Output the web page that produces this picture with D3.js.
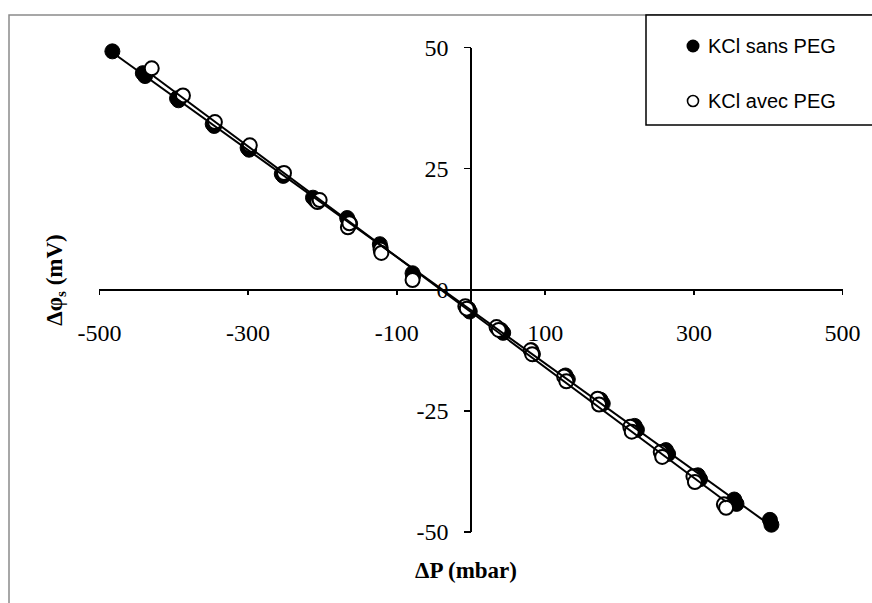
<!DOCTYPE html>
<html>
<head>
<meta charset="utf-8">
<title>Delta phi vs Delta P</title>
<script src="https://d3js.org/d3.v7.min.js"></script>
<style>
 body { margin: 0; background: #fff; }
 .axis path, .axis line { stroke: #000; stroke-width: 1.6; shape-rendering: crispEdges; }
 .title { font: bold 23px "Liberation Serif", "Times New Roman", serif; fill: #000; }
 .legend { font: 20px "Liberation Sans", Arial, sans-serif; fill: #000; }
</style>
</head>
<body>
<div id="chart"></div>
<script>
// KCl sans PEG (filled markers)
var sansP = [-482, -441, -438, -395, -393, -347, -345, -300, -298, -254, -252,
  -212, -209, -166, -164, -162, -122, -121, -78, -77, -3, -1, 41, 44, 82, 84,
  128, 131, 175, 178, 221, 224, 263, 266, 306, 309, 355, 358, 403, 405];
var sansV = [49.1, 44.6, 44.0, 39.4, 39.0, 34.1, 33.7, 29.2, 28.8, 23.8, 23.4,
  18.9, 18.4, 14.7, 14.0, 13.5, 9.3, 8.6, 3.3, 2.8, -4.0, -4.6, -8.4, -9.0, -12.6, -13.4,
  -17.8, -18.6, -22.8, -23.6, -28.2, -29.0, -33.2, -34.0, -38.4, -39.2, -43.4, -44.3, -47.6, -48.6];

// KCl avec PEG (open markers)
var avecP = [-429, -387, -344, -297, -251, -206, -203, -165, -163, -121, -120, -78,
  -7, -5, 35, 38, 81, 83, 126, 129, 171, 173, 215, 217, 256, 258, 300, 302, 341, 344];
var avecV = [45.6, 40.0, 34.5, 29.7, 24.0, 18.0, 18.4, 12.8, 13.6, 8.2, 7.5, 1.9,
  -3.5, -4.0, -7.8, -8.4, -12.6, -13.4, -18.0, -19.0, -22.6, -23.8, -28.4, -29.4, -33.6, -34.6, -38.6, -39.8, -44.4, -45.1];

var xTicks = [-500, -300, -100, 100, 300, 500];
var yTicks = [50, 25, 0, -25, -50];
var seriesNames = ["KCl sans PEG", "KCl avec PEG"];

var W = 872, H = 603;
var serif = '"Liberation Serif", "Times New Roman", serif';
var svg = d3.select("#chart").append("svg")
  .attr("width", W).attr("height", H);

// outer chart border
svg.append("rect")
  .attr("x", 9).attr("y", 15).attr("width", W + 20).attr("height", H + 20)
  .attr("fill", "none").attr("stroke", "#8a8a8a").attr("stroke-width", 1.5);

var x = d3.scaleLinear().domain([-500, 500]).range([99, 842]);
var y = d3.scaleLinear().domain([-50, 50]).range([531.5, 47]);

var x0 = x(0), y0 = y(0);

// x axis through y=0
var gx = svg.append("g").attr("class", "axis")
  .attr("transform", "translate(0," + y0 + ")")
  .call(d3.axisBottom(x).tickValues(xTicks).tickSize(6).tickSizeOuter(0).tickFormat(function(d) { return String(d); }));
gx.attr("font-family", serif).attr("font-size", 24);
gx.selectAll("text").attr("y", 52).attr("dy", 0).attr("fill", "#000");

// y axis through x=0
var gy = svg.append("g").attr("class", "axis")
  .attr("transform", "translate(" + x0 + ",0)")
  .call(d3.axisLeft(y).tickValues(yTicks).tickSize(7).tickSizeOuter(0).tickFormat(function(d) { return String(d); }));
gy.attr("font-family", serif).attr("font-size", 24);
gy.selectAll("text").attr("x", -22).attr("dy", "0.35em").attr("fill", "#000");
gy.selectAll(".tick").filter(function(d) { return d === 0; }).select("line").remove();

// axis titles
svg.append("text").attr("class", "title")
  .attr("x", 466).attr("y", 578).attr("text-anchor", "middle")
  .text("\u0394P (mbar)");

var yt = svg.append("text").attr("class", "title")
  .attr("transform", "translate(62,280) rotate(-90)")
  .attr("text-anchor", "middle");
yt.append("tspan").text("\u0394\u03c6");
yt.append("tspan").attr("font-size", "15px").attr("dy", 4).text("s");
yt.append("tspan").attr("dy", -4).text(" (mV)");

// markers
function pts(P, V) { return P.map(function(p, i) { return [p, V[i]]; }); }
var sans = pts(sansP, sansV), avec = pts(avecP, avecV);

svg.append("g").selectAll("circle").data(sans).enter().append("circle")
  .attr("cx", function(d) { return x(d[0]); })
  .attr("cy", function(d) { return y(d[1]); })
  .attr("r", 7.5).attr("fill", "#000").attr("stroke", "#000").attr("stroke-width", 1);

svg.append("g").selectAll("circle").data(avec).enter().append("circle")
  .attr("cx", function(d) { return x(d[0]); })
  .attr("cy", function(d) { return y(d[1]); })
  .attr("r", 7).attr("fill", "#fff").attr("stroke", "#000").attr("stroke-width", 2);

// linear trendlines (least squares) over each series' range
function fit(data) {
  var mx = d3.mean(data, function(d) { return d[0]; });
  var my = d3.mean(data, function(d) { return d[1]; });
  var sxy = d3.sum(data, function(d) { return (d[0] - mx) * (d[1] - my); });
  var sxx = d3.sum(data, function(d) { return (d[0] - mx) * (d[0] - mx); });
  var b = sxy / sxx, a = my - b * mx;
  var ext = d3.extent(data, function(d) { return d[0]; });
  return ext.map(function(v) { return [v, a + b * v]; });
}
var line = d3.line().x(function(d) { return x(d[0]); }).y(function(d) { return y(d[1]); });
[sans, avec].forEach(function(s) {
  svg.append("path").attr("d", line(fit(s)))
    .attr("fill", "none").attr("stroke", "#000").attr("stroke-width", 2);
});

// legend
var lg = svg.append("g");
lg.append("rect").attr("x", 646).attr("y", 15).attr("width", 240).attr("height", 110)
  .attr("fill", "#fff").attr("stroke", "#000").attr("stroke-width", 1.5);
lg.append("circle").attr("cx", 693).attr("cy", 46).attr("r", 6.5).attr("fill", "#000");
lg.append("circle").attr("cx", 693).attr("cy", 101).attr("r", 5.5)
  .attr("fill", "#fff").attr("stroke", "#000").attr("stroke-width", 1.6);
lg.append("text").attr("class", "legend").attr("x", 708).attr("y", 53).text(seriesNames[0]);
lg.append("text").attr("class", "legend").attr("x", 708).attr("y", 108).text(seriesNames[1]);
</script>
</body>
</html>
